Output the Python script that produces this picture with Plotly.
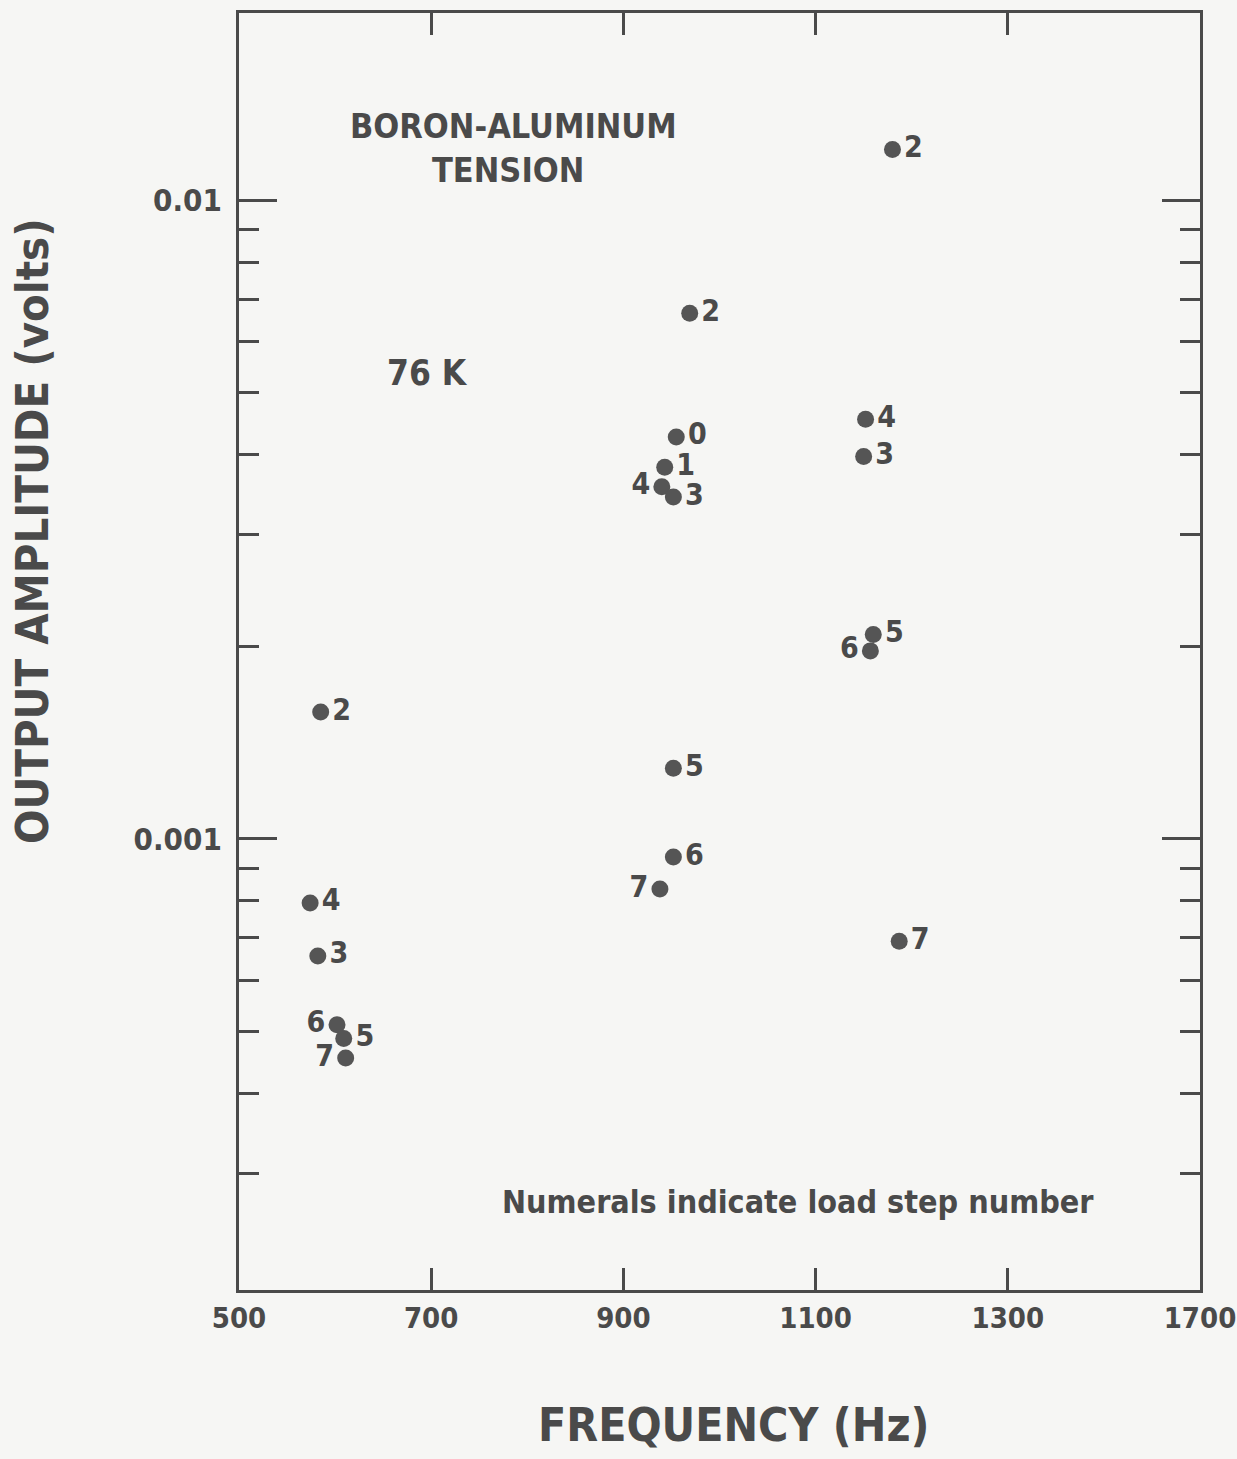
import plotly.graph_objects as go

# ---- data ----
frequency_hz = [1180, 969, 1152, 955, 1150, 943, 940, 952, 1160, 1157,
                585, 952, 952, 938, 574, 1187, 582, 602, 609, 611]
amplitude_v = [0.0120, 0.00665, 0.00454, 0.00426, 0.00397, 0.00382, 0.00356, 0.00343,
               0.00209, 0.00197, 0.00158, 0.00129, 0.000937, 0.000835, 0.000794,
               0.000692, 0.000656, 0.000512, 0.000487, 0.000454]
load_step = ["2", "2", "4", "0", "3", "1", "4", "3", "5", "6",
             "2", "5", "6", "7", "4", "7", "3", "6", "5", "7"]

x_tick_values = [500, 700, 900, 1100, 1300, 1500]
x_tick_labels = ["500", "700", "900", "1100", "1300", "1700"]
y_major_values = [0.001, 0.01]
y_major_labels = ["0.001", "0.01"]
y_minor_values = [0.0003, 0.0004, 0.0005, 0.0006, 0.0007, 0.0008, 0.0009,
                  0.002, 0.003, 0.004, 0.005, 0.006, 0.007, 0.008, 0.009]

# ---- styling ----
label_side = ["middle right"] * 20
for i in (6, 9, 13, 17, 19):
    label_side[i] = "middle left"

FONT = "DejaVu Sans Condensed, DejaVu Sans, sans-serif"
INK = "#4a4a4a"
BG = "#f6f6f4"

W, H = 1237, 1459
L, R, T, B = 239, 37, 13, 169
x_range = [500, 1500]
y_range = [-3.706, -1.707]

fig = go.Figure()
fig.add_trace(go.Scatter(
    x=frequency_hz, y=amplitude_v, mode="markers+text",
    text=load_step, textposition=label_side,
    marker=dict(size=17, color="#555555"),
    textfont=dict(family=FONT, size=30, color=INK, weight="bold"),
    cliponaxis=False, showlegend=False, hoverinfo="skip",
))
# invisible trace to anchor the mirrored axes
fig.add_trace(go.Scatter(x=[1000], y=[0.001], xaxis="x2", yaxis="y2",
                         mode="markers", marker=dict(opacity=0),
                         showlegend=False, hoverinfo="skip"))

axis_common = dict(showgrid=False, zeroline=False, showline=True, automargin=False,
                   linecolor=INK, linewidth=3, tickcolor=INK, tickwidth=3)
xtickfont = dict(family=FONT, size=29, color=INK, weight="bold")
ytickfont = dict(family=FONT, size=31, color=INK, weight="bold")

fig.update_layout(
    width=W, height=H, autosize=False,
    margin=dict(l=L, r=R, t=T, b=B),
    paper_bgcolor=BG, plot_bgcolor=BG,
    xaxis=dict(range=x_range, tickmode="array", tickvals=x_tick_values,
               ticktext=x_tick_labels, ticks="inside", ticklen=22,
               tickfont=xtickfont, ticklabeloverflow="allow", **axis_common),
    xaxis2=dict(range=x_range, overlaying="x", side="top", tickmode="array",
                tickvals=x_tick_values, ticks="inside", ticklen=22,
                showticklabels=False, **axis_common),
    yaxis=dict(type="log", range=y_range, tickmode="array",
               tickvals=y_major_values, ticktext=y_major_labels,
               ticks="inside", ticklen=38, tickfont=ytickfont, ticklabelstandoff=8,
               ticklabeloverflow="allow",
               minor=dict(tickmode="array", tickvals=y_minor_values, ticks="inside",
                          ticklen=20, tickcolor=INK, tickwidth=3),
               **axis_common),
    yaxis2=dict(type="log", range=y_range, overlaying="y", side="right",
                tickmode="array", tickvals=y_major_values, ticks="inside",
                ticklen=38, showticklabels=False,
                minor=dict(tickmode="array", tickvals=y_minor_values, ticks="inside",
                           ticklen=20, tickcolor=INK, tickwidth=3),
                **axis_common),
)

def px_to_paper(px, py):
    return (px - L) / (W - L - R), 1 - (py - T) / (H - T - B)

def note(text, px, py, size, rot=0):
    ax, ay = px_to_paper(px, py)
    fig.add_annotation(text=text, x=ax, y=ay, xref="paper", yref="paper",
                       xanchor="center", yanchor="middle", showarrow=False,
                       textangle=rot,
                       font=dict(family=FONT, size=size, color=INK, weight="bold"))

note("BORON-ALUMINUM", 513, 126, 34)
note("TENSION", 508, 170, 34)
note("76 K", 427, 373, 35)
note("Numerals indicate load step number", 798, 1202, 32)
note("FREQUENCY (Hz)", 733, 1425, 46)
note("OUTPUT AMPLITUDE (volts)", 32, 531, 45, rot=-90)

fig.write_html(
    "out.html",
    config={"responsive": False, "displayModeBar": False},
    post_script="document.body.style.margin='0';"
                "document.body.style.overflow='hidden';"
                "document.body.style.background='#f6f6f4';",
)
